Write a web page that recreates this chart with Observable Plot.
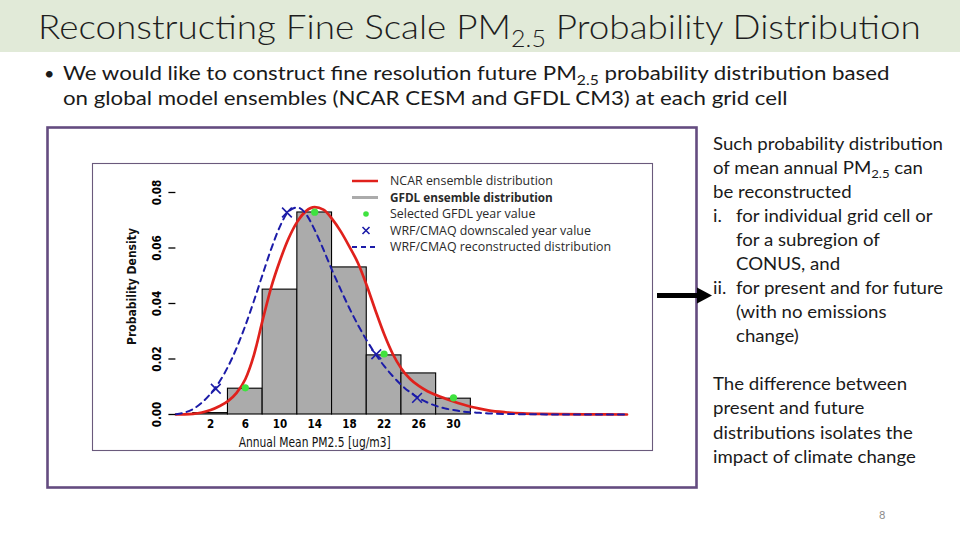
<!DOCTYPE html>
<html>
<head>
<meta charset="utf-8">
<script src="https://cdn.jsdelivr.net/npm/d3@7"></script>
<script src="https://cdn.jsdelivr.net/npm/@observablehq/plot@0.6"></script>
<style>
  html, body { margin: 0; padding: 0; background: #fff; }
  body { width: 960px; height: 540px; position: relative; overflow: hidden; }
</style>
</head>
<body>
<script>
// ---------------- DATA ----------------
// GFDL ensemble histogram (bin edges and probability density)
const binStart = [0, 4, 8, 12, 16, 20, 24, 28];
const binEnd = [4, 8, 12, 16, 20, 24, 28, 32];
const gfdlDensity = [0.0005, 0.0093, 0.045, 0.0728, 0.053, 0.0213, 0.0148, 0.0057];

// sample positions of the two density curves (ug/m3)
const curveX = [-2, -1, 0, 1, 2, 3, 4, 5, 6, 7, 8, 9, 10, 11, 12, 13, 14, 15, 16, 17, 18,
  19, 20, 21, 22, 23, 24, 25, 26, 27, 28, 29, 30, 31, 32, 33, 34, 36, 38, 40, 42, 45, 50];
// NCAR ensemble distribution (red)
const ncarDensity = [0, 0.00003, 0.0002, 0.0007, 0.0016, 0.003, 0.0048, 0.0078, 0.0127, 0.0215,
  0.034, 0.046, 0.0555, 0.0635, 0.0695, 0.0733, 0.0747, 0.0738, 0.0705, 0.066, 0.0605,
  0.0545, 0.0465, 0.0375, 0.029, 0.0218, 0.0165, 0.0128, 0.0103, 0.0084, 0.007, 0.0058,
  0.0047, 0.0037, 0.0028, 0.0021, 0.0015, 0.0008, 0.0004, 0.0002, 0.0001, 0.00003, 0];
// WRF/CMAQ reconstructed distribution (blue dashed)
const wrfDensity = [0.0001, 0.0007, 0.002, 0.0043, 0.0075, 0.0117, 0.0172, 0.024, 0.032, 0.041,
  0.0505, 0.0598, 0.0678, 0.0732, 0.0746, 0.0722, 0.0665, 0.0595, 0.052, 0.045, 0.0383,
  0.0322, 0.0267, 0.0218, 0.0175, 0.0138, 0.0106, 0.008, 0.0059, 0.0043, 0.0031, 0.0022,
  0.0016, 0.0011, 0.0008, 0.0006, 0.0004, 0.0002, 0.0001, 0.00005, 0.00002, 0, 0];

// Selected GFDL year values (green dots)
const gfdlYearX = [6, 14, 22, 30];
const gfdlYearY = [0.0096, 0.0729, 0.0218, 0.006];
// WRF/CMAQ downscaled year values (blue x)
const wrfYearX = [2.6, 10.8, 21.1, 25.8];
const wrfYearY = [0.0093, 0.0728, 0.0217, 0.006];

// axes
const xTicks = [2, 6, 10, 14, 18, 22, 26, 30];
const yTicks = [0, 0.02, 0.04, 0.06, 0.08];
const xLabel = "Annual Mean PM2.5 [ug/m3]";
const yLabel = "Probability Density";
const xLabelCenter = 14;

const legendLabels = [
  "NCAR ensemble distribution",
  "GFDL ensemble distribution",
  "Selected GFDL year value",
  "WRF/CMAQ downscaled year value",
  "WRF/CMAQ reconstructed distribution"
];

// slide text
const titleParts = ["Reconstructing Fine Scale PM", "2.5", " Probability Distribution"];
const bulletLine1 = ["We would like to construct fine resolution future PM", "2.5", " probability distribution based"];
const bulletLine2 = "on global model ensembles (NCAR CESM and GFDL CM3) at each grid cell";
const sideLines = [
  ["Such probability distribution"],
  ["of mean annual PM", "2.5", " can"],
  ["be reconstructed"]
];
const sideItems = [
  ["i.", ["for individual grid cell or", "for a subregion of", "CONUS, and"]],
  ["ii.", ["for present and for future", "(with no emissions", "change)"]]
];
const sideLines2 = ["The difference between", "present and future", "distributions isolates the", "impact of climate change"];
const pageNumber = "8";

// ---------------- TABLES ----------------
const bins = binStart.map((s, i) => ({x1: s, x2: binEnd[i], d: gfdlDensity[i]}));
const curves = curveX.map((x, i) => ({x, ncar: ncarDensity[i], wrf: wrfDensity[i]}));
const greens = gfdlYearX.map((x, i) => ({x, y: gfdlYearY[i]}));
const crosses = wrfYearX.map((x, i) => ({x, y: wrfYearY[i]}));

// ---------------- SLIDE BACKGROUND ----------------
const SANS = "Lato, 'Open Sans', 'Noto Sans', sans-serif";
const body = d3.select("body");
const page = body.append("svg")
  .attr("width", 960).attr("height", 540)
  .style("position", "absolute").style("left", "0px").style("top", "0px");

page.append("rect").attr("x", 0).attr("y", 0).attr("width", 960).attr("height", 52).attr("fill", "#e1ead8");

function scaleText(sel, x, factor) {
  sel.attr("transform", `translate(${x},0) scale(${factor},1) translate(${-x},0)`);
}
function widthOf(sel) { return sel.node().getBBox().width; }

function richText(parent, x, y, parts, size, subSize, opts = {}) {
  const t = parent.append("text").attr("x", x).attr("y", y)
    .attr("font-family", opts.family || SANS)
    .attr("font-size", size)
    .attr("font-weight", opts.weight || 400)
    .attr("fill", opts.fill || "#1a1a1a");
  if (typeof parts === "string") parts = [parts];
  parts.forEach((p, i) => {
    if (i === 1) t.append("tspan").attr("dy", size * 0.25).attr("font-size", subSize).text(p);
    else if (i === 2) t.append("tspan").attr("dy", -size * 0.25).text(p);
    else t.append("tspan").text(p);
  });
  return t;
}

// title
const title = richText(page, 38, 39, titleParts, 34, 23, {weight: 300, fill: "#1e1e1e"});
scaleText(title, 38, 883 / widthOf(title));

// bullet
page.append("text").attr("x", 44).attr("y", 80).attr("font-family", SANS).attr("font-size", 18).attr("fill", "#1a1a1a").text("•");
const b1 = richText(page, 63, 80, bulletLine1, 18.5, 13);
const bf = 827 / widthOf(b1);
scaleText(b1, 63, bf);
const b2 = richText(page, 63, 105, bulletLine2, 18.5, 13);
scaleText(b2, 63, bf);

// side text
const sideSize = 17;
const s0 = richText(page, 713, 150, sideLines[0], sideSize, 12);
const sf = 230 / widthOf(s0);
scaleText(s0, 713, sf);
let yy = 150;
sideLines.slice(1).forEach(l => { yy += 24; scaleText(richText(page, 713, yy, l, sideSize, 12), 713, sf); });
sideItems.forEach(([num, lines]) => {
  lines.forEach((l, i) => {
    yy += 24;
    if (i === 0) scaleText(richText(page, 713, yy, num, sideSize, 12), 713, sf);
    scaleText(richText(page, 736, yy, l, sideSize, 12), 736, sf);
  });
});
yy = 390;
sideLines2.forEach((l, i) => {
  scaleText(richText(page, 713, yy + i * 24.3, l, sideSize, 12), 713, sf);
});
page.append("text").attr("x", 879).attr("y", 519).attr("font-family", SANS).attr("font-size", 11).attr("fill", "#8c8c8c").text(pageNumber);

// boxes and arrow
page.append("rect").attr("x", 47.5).attr("y", 127.5).attr("width", 649).attr("height", 360)
  .attr("fill", "none").attr("stroke", "#644c80").attr("stroke-width", 2.6);
page.append("rect").attr("x", 92.5).attr("y", 163.5).attr("width", 560).attr("height", 287)
  .attr("fill", "none").attr("stroke", "#6a5a7c").attr("stroke-width", 1.1);
page.append("line").attr("x1", 657).attr("x2", 700).attr("y1", 295.5).attr("y2", 295.5)
  .attr("stroke", "#000").attr("stroke-width", 5);
page.append("path").attr("d", "M697,287.5 L712,295.5 L697,303.5 Z").attr("fill", "#000");

// ---------------- CHART ----------------
const PLOTFONT = "'Liberation Sans Narrow', 'DejaVu Sans Condensed', Roboto, sans-serif";
const RED = "#e0211c", BLUE = "#1c1ca8", GREEN = "#3fe23f";
const chart = Plot.plot({
  width: 561, height: 288,
  marginLeft: 83.4, marginRight: 26.5, marginTop: 29, marginBottom: 37,
  style: {background: "transparent", position: "absolute", left: "92px", top: "163px", overflow: "visible", fontFamily: PLOTFONT, color: "#000"},
  x: {domain: [-2, 50]},
  y: {domain: [0, 0.08]},
  marks: [
    Plot.rectY(bins, {x1: "x1", x2: "x2", y: "d", fill: "#ababab", stroke: "#000", strokeWidth: 1.1}),
    Plot.lineY(curves, {x: "x", y: "ncar", stroke: RED, strokeWidth: 2.7, curve: "monotone-x"}),
    Plot.lineY(curves, {x: "x", y: "wrf", stroke: BLUE, strokeWidth: 2, strokeDasharray: "6,5", curve: "monotone-x"}),
    Plot.dot(greens, {x: "x", y: "y", r: 3.6, fill: GREEN, stroke: null}),
    Plot.dot(crosses, {x: "x", y: "y", symbol: "times", r: 4.5, stroke: BLUE, strokeWidth: 1.6}),
    Plot.axisY(yTicks, {tickRotate: -90, tickFormat: d3.format(".2f"), tickSize: 7, tickPadding: 8, line: true, label: null, fontSize: 11.5, fontWeight: "bold", strokeWidth: 1.3}),
    Plot.axisX(xTicks, {tickSize: 0, tickPadding: 5, label: null, fontSize: 11.5, fontWeight: "bold"}),
    Plot.text([yLabel], {frameAnchor: "left", textAnchor: "middle", dx: -44, dy: -17, rotate: -90, fontSize: 13, fontWeight: "bold", fill: "#111"}),
    Plot.text([xLabel], {x: [xLabelCenter], frameAnchor: "bottom", textAnchor: "middle", dy: 32, fontSize: 14, fill: "#111"})
  ]
});
document.body.appendChild(chart);
// fit the two axis titles to the lengths seen in the reference
d3.select(chart).selectAll("text").each(function() {
  const s = d3.select(this);
  if (s.text() === xLabel) s.attr("textLength", 152).attr("lengthAdjust", "spacingAndGlyphs");
  if (s.text() === yLabel) s.attr("textLength", 117).attr("lengthAdjust", "spacingAndGlyphs");
});

// ---------------- LEGEND ----------------
const leg = body.append("svg").attr("width", 960).attr("height", 540)
  .style("position", "absolute").style("left", "0px").style("top", "0px").style("pointer-events", "none");
const rowsY = [181, 197.5, 214, 230.5, 247];
leg.append("line").attr("x1", 352).attr("x2", 378).attr("y1", rowsY[0]).attr("y2", rowsY[0]).attr("stroke", RED).attr("stroke-width", 2.5);
leg.append("line").attr("x1", 352).attr("x2", 378).attr("y1", rowsY[1]).attr("y2", rowsY[1]).attr("stroke", "#ababab").attr("stroke-width", 3);
leg.append("circle").attr("cx", 366).attr("cy", rowsY[2]).attr("r", 2.8).attr("fill", GREEN);
leg.append("path").attr("d", `M${362.5},${rowsY[3] - 3.5} l7,7 M${362.5},${rowsY[3] + 3.5} l7,-7`).attr("stroke", BLUE).attr("stroke-width", 1.6);
leg.append("line").attr("x1", 352).attr("x2", 378).attr("y1", rowsY[4]).attr("y2", rowsY[4]).attr("stroke", BLUE).attr("stroke-width", 2).attr("stroke-dasharray", "5,4");
let lf = null;
legendLabels.forEach((lab, i) => {
  const t = leg.append("text").attr("x", 390).attr("y", rowsY[i] + 4.3)
    .attr("font-family", "'Open Sans', 'Noto Sans', sans-serif").attr("font-size", 12)
    .attr("font-weight", i === 1 ? 700 : 400).attr("fill", "#2a2a2a").text(lab);
  if (lf === null) lf = 163 / widthOf(t);
  scaleText(t, 390, i === 1 ? 163 / widthOf(t) : lf);
});
</script>
</body>
</html>
